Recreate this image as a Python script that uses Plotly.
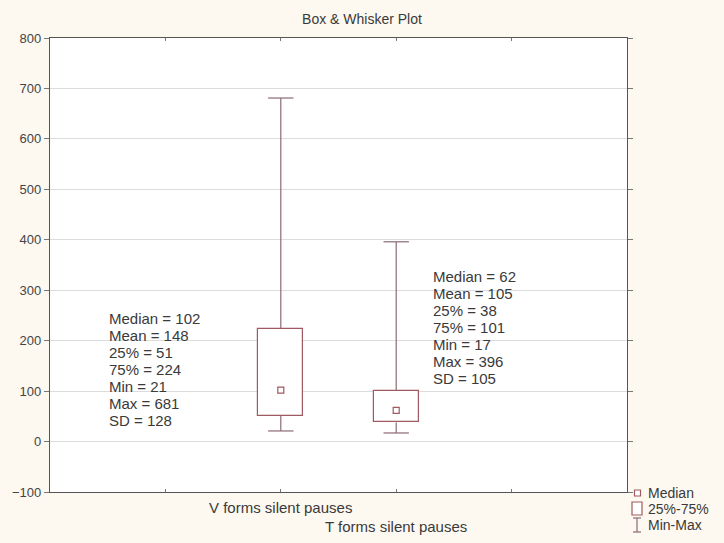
import plotly.graph_objects as go

# Summary statistics for the two pause groups
categories = ["V forms silent pauses", "T forms silent pauses"]
positions = [2, 3]
medians = [102, 62]
means = [148, 105]
q1 = [51, 38]
q3 = [224, 101]
mins = [21, 17]
maxs = [681, 396]
sds = [128, 105]

y_ticks = [-100, 0, 100, 200, 300, 400, 500, 600, 700, 800]
legend_labels = ["Median", "25%-75%", "Min-Max"]

BOX_COLOR = "#9e5a60"
WHISKER_COLOR = "#8c6a72"
TEXT_COLOR = "#3a3a3a"
BG = "#fdf9f1"
FONT = "Liberation Sans, Arial, sans-serif"

W, H = 724, 543
ML, MR, MT, MB = 50, 97, 38, 51
PW, PH = W - ML - MR, H - MT - MB

box_width = 0.39
cap_half = 0.11

fig = go.Figure()

# Interquartile boxes
fig.add_trace(go.Bar(
    x=positions,
    y=[b - a for a, b in zip(q1, q3)],
    base=q1,
    width=box_width,
    marker=dict(color="white", line=dict(color=BOX_COLOR, width=1.2)),
    showlegend=False, hoverinfo="skip",
))

# Whiskers with end caps
wx, wy = [], []
for p, lo, hi, a, b in zip(positions, mins, maxs, q1, q3):
    wx += [p, p, None, p - cap_half, p + cap_half, None,
           p, p, None, p - cap_half, p + cap_half, None]
    wy += [b, hi, None, hi, hi, None,
           a, lo, None, lo, lo, None]
fig.add_trace(go.Scatter(
    x=wx, y=wy, mode="lines",
    line=dict(color=WHISKER_COLOR, width=1.2),
    showlegend=False, hoverinfo="skip",
))

# Median markers
fig.add_trace(go.Scatter(
    x=positions, y=medians, mode="markers",
    marker=dict(symbol="square-open", size=6, color=BOX_COLOR, line=dict(width=1.2)),
    showlegend=False, hoverinfo="skip",
))


# Statistics labels next to each box, one line per statistic
def stats_lines(i):
    return [
        f"Median = {medians[i]}",
        f"Mean = {means[i]}",
        f"25% = {q1[i]}",
        f"75% = {q3[i]}",
        f"Min = {mins[i]}",
        f"Max = {maxs[i]}",
        f"SD = {sds[i]}",
    ]


annotations = []
LINE_STEP = 17
for i, (ax, ay) in enumerate([(0.49, 244), (3.30, 327)]):
    for k, line in enumerate(stats_lines(i)):
        annotations.append(dict(
            x=ax, y=ay, xref="x", yref="y", xanchor="left", yanchor="middle",
            yshift=-LINE_STEP * k, text=line, showarrow=False, align="left",
            font=dict(family=FONT, size=15, color=TEXT_COLOR),
        ))

# Staggered category labels
for p, name, shift in zip(positions, categories, [-15, -34]):
    annotations.append(dict(
        x=p, y=0, xref="x", yref="paper", xanchor="center", yanchor="middle",
        yshift=shift, text=name, showarrow=False,
        font=dict(family=FONT, size=15, color=TEXT_COLOR),
    ))


# Hand-drawn legend to the right of the plot, in paper coordinates
def px_x(px):
    return (px - ML) / PW


def px_y(py):
    return (H - MB - py) / PH


legend_rows = [493, 509, 525]
for label, row in zip(legend_labels, legend_rows):
    annotations.append(dict(
        x=px_x(646), y=px_y(row), xref="paper", yref="paper",
        xanchor="left", yanchor="middle", text=label, showarrow=False,
        font=dict(family=FONT, size=14, color=TEXT_COLOR),
    ))

shapes = [
    # median glyph
    dict(type="rect", xref="paper", yref="paper",
         x0=px_x(634.5), x1=px_x(640.5), y0=px_y(496), y1=px_y(490),
         line=dict(color=BOX_COLOR, width=1.2), fillcolor="white"),
    # box glyph
    dict(type="rect", xref="paper", yref="paper",
         x0=px_x(632), x1=px_x(642), y0=px_y(515), y1=px_y(502),
         line=dict(color=BOX_COLOR, width=1.2), fillcolor="white"),
    # whisker glyph
    dict(type="line", xref="paper", yref="paper",
         x0=px_x(637), x1=px_x(637), y0=px_y(532), y1=px_y(518),
         line=dict(color=WHISKER_COLOR, width=1.2)),
    dict(type="line", xref="paper", yref="paper",
         x0=px_x(633), x1=px_x(641), y0=px_y(518), y1=px_y(518),
         line=dict(color=WHISKER_COLOR, width=1.2)),
    dict(type="line", xref="paper", yref="paper",
         x0=px_x(633), x1=px_x(641), y0=px_y(532), y1=px_y(532),
         line=dict(color=WHISKER_COLOR, width=1.2)),
]

fig.update_layout(
    width=W, height=H,
    margin=dict(l=ML, r=MR, t=MT, b=MB, autoexpand=False),
    paper_bgcolor=BG, plot_bgcolor="white",
    title=dict(text="Box & Whisker Plot", x=0.5, xanchor="center",
               y=1 - 19 / H, yanchor="middle",
               font=dict(family=FONT, size=14, color=TEXT_COLOR)),
    font=dict(family=FONT, size=13, color="#444"),
    annotations=annotations,
    shapes=shapes,
    showlegend=False,
    bargap=0,
)

fig.update_xaxes(
    range=[0, 5], tickvals=[1, 2, 3, 4], showticklabels=False,
    showgrid=False, zeroline=False,
    showline=True, linecolor="#555", linewidth=1.2, mirror="ticks",
    ticks="inside", ticklen=3, tickcolor="#777",
)
fig.update_yaxes(
    range=[-100, 800], tickvals=y_ticks,
    showgrid=True, gridcolor="#dcdcdc", gridwidth=1, zeroline=False,
    showline=True, linecolor="#555", linewidth=1.2, mirror="ticks",
    ticks="outside", ticklen=5, tickcolor="#777",
    tickfont=dict(family=FONT, size=13, color="#444"),
)

fig.write_html("out.html")
